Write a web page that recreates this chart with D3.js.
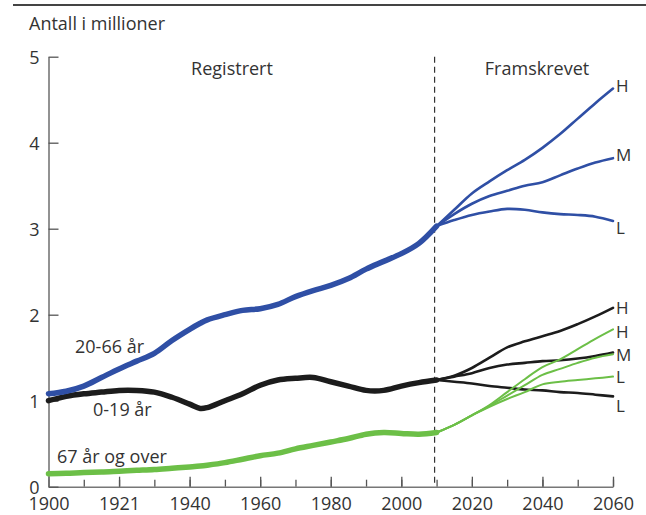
<!DOCTYPE html>
<html>
<head>
<meta charset="utf-8">
<script src="https://cdn.jsdelivr.net/npm/d3@7"></script>
<style>
  body { margin: 0; background: #fff; }
  text { font-family: "Open Sans", "Noto Sans", sans-serif; fill: #333; }
</style>
</head>
<body>
<div id="chart"></div>
<script>
// registered figures, millions
const regYears = [1900, 1905, 1910, 1915, 1920, 1925, 1930, 1935, 1940, 1943, 1945, 1950, 1955, 1960, 1965, 1970, 1975, 1980, 1985, 1990, 1995, 2000, 2005, 2010];
const reg2066 = [1.08, 1.11, 1.17, 1.27, 1.37, 1.46, 1.55, 1.70, 1.83, 1.90, 1.94, 2.00, 2.05, 2.07, 2.12, 2.21, 2.28, 2.34, 2.42, 2.53, 2.62, 2.71, 2.83, 3.03];
const reg019 = [1.00, 1.05, 1.08, 1.10, 1.12, 1.12, 1.10, 1.04, 0.96, 0.91, 0.92, 1.00, 1.08, 1.18, 1.24, 1.26, 1.27, 1.22, 1.17, 1.12, 1.12, 1.17, 1.21, 1.24];
const reg67 = [0.15, 0.155, 0.165, 0.17, 0.18, 0.19, 0.20, 0.215, 0.23, 0.24, 0.25, 0.28, 0.32, 0.36, 0.39, 0.44, 0.48, 0.52, 0.56, 0.61, 0.63, 0.62, 0.61, 0.63];

// projections (H = high, M = middle, L = low)
const projYears = [2010, 2015, 2020, 2025, 2030, 2035, 2040, 2045, 2050, 2055, 2060];
const proj2066H = [3.03, 3.22, 3.41, 3.55, 3.68, 3.80, 3.94, 4.10, 4.28, 4.46, 4.63];
const proj2066M = [3.03, 3.17, 3.29, 3.38, 3.44, 3.50, 3.54, 3.62, 3.70, 3.77, 3.82];
const proj2066L = [3.03, 3.10, 3.16, 3.20, 3.23, 3.22, 3.19, 3.17, 3.16, 3.14, 3.09];
const proj019H = [1.24, 1.29, 1.38, 1.50, 1.62, 1.69, 1.75, 1.81, 1.89, 1.98, 2.08];
const proj019M = [1.24, 1.28, 1.32, 1.38, 1.42, 1.44, 1.46, 1.47, 1.49, 1.52, 1.56];
const proj019L = [1.24, 1.22, 1.20, 1.17, 1.15, 1.13, 1.12, 1.10, 1.09, 1.07, 1.05];
const proj67H = [0.63, 0.72, 0.83, 0.95, 1.10, 1.25, 1.39, 1.48, 1.60, 1.72, 1.83];
const proj67M = [0.63, 0.72, 0.83, 0.94, 1.06, 1.18, 1.30, 1.37, 1.44, 1.50, 1.54];
const proj67L = [0.63, 0.72, 0.83, 0.93, 1.02, 1.10, 1.19, 1.22, 1.24, 1.26, 1.28];

const splitYear = 2010;
const xTickValues = [1900, 1920, 1940, 1960, 1980, 2000, 2020, 2040, 2060];
const xTickLabels = ["1900", "1921", "1940", "1960", "1980", "2000", "2020", "2040", "2060"];
const xMinorTicks = d3.range(1900, 2061, 10);
const yTickValues = [0, 1, 2, 3, 4, 5];

const width = 646, height = 515;
const blue = "#2f4fa5", black = "#1c1c1c", green = "#6cbf47";

const svg = d3.select("#chart")
  .append("svg")
  .attr("width", width)
  .attr("height", height);

const x = d3.scaleLinear().domain([1900, 2060]).range([48.5, 613]);
const y = d3.scaleLinear().domain([0, 5]).range([486.7, 56.7]);

// top rule
svg.append("line")
  .attr("x1", 13).attr("x2", width)
  .attr("y1", 5).attr("y2", 5)
  .style("stroke", "#444").style("stroke-width", 2);

svg.append("text")
  .attr("x", 29).attr("y", 30)
  .style("font-size", "18px")
  .text("Antall i millioner");

// axes
const xMinor = svg.append("g")
  .attr("transform", "translate(0," + y(0) + ")")
  .call(d3.axisBottom(x).tickValues(xMinorTicks).tickSize(-7).tickSizeOuter(0).tickFormat(""));
xMinor.select(".domain").remove();

const xAxis = svg.append("g")
  .attr("transform", "translate(0," + y(0) + ")")
  .call(d3.axisBottom(x)
    .tickValues(xTickValues)
    .tickSize(-10)
    .tickSizeOuter(0)
    .tickPadding(11)
    .tickFormat((d, i) => xTickLabels[i]));

const yAxis = svg.append("g")
  .attr("transform", "translate(" + x(1900) + ",0)")
  .call(d3.axisLeft(y)
    .tickValues(yTickValues)
    .tickSize(-10)
    .tickSizeOuter(0)
    .tickPadding(9)
    .tickFormat(d3.format("d")));

[xAxis, yAxis, xMinor].forEach(function(g) {
  g.selectAll("line").style("stroke", "#555").style("stroke-width", 1.3);
  g.selectAll(".domain").style("stroke", "#777").style("stroke-width", 1.6);
  g.selectAll("text").style("font-size", "18px").style("fill", "#333")
    .style("font-family", "'Open Sans', sans-serif");
});
xAxis.selectAll("text").attr("dy", "0.71em");
yAxis.selectAll("text").attr("dy", "0.35em");

// split between registered and projected
svg.append("line")
  .attr("x1", x(splitYear) - 2).attr("x2", x(splitYear) - 2)
  .attr("y1", y(5)).attr("y2", y(0))
  .style("stroke", "#333").style("stroke-width", 1.2)
  .style("stroke-dasharray", "6,4");

svg.append("text").attr("x", 232).attr("y", 75)
  .style("font-size", "18px").style("text-anchor", "middle").text("Registrert");
svg.append("text").attr("x", 537).attr("y", 75)
  .style("font-size", "18px").style("text-anchor", "middle").text("Framskrevet");

const line = d3.line()
  .x(d => x(d[0]))
  .y(d => y(d[1]))
  .curve(d3.curveCatmullRom);

function draw(years, values, color, w) {
  svg.append("path")
    .datum(years.map((yr, i) => [yr, values[i]]))
    .attr("d", line)
    .style("fill", "none")
    .style("stroke", color)
    .style("stroke-width", w)
    .style("stroke-linecap", "round")
    .style("stroke-linejoin", "round");
}

// projections
draw(projYears, proj2066H, blue, 2.6);
draw(projYears, proj2066M, blue, 2.6);
draw(projYears, proj2066L, blue, 2.6);
draw(projYears, proj019H, black, 2.6);
draw(projYears, proj019M, black, 2.6);
draw(projYears, proj019L, black, 2.6);
draw(projYears, proj67H, green, 2);
draw(projYears, proj67M, green, 2);
draw(projYears, proj67L, green, 2);

// registered
draw(regYears, reg67, green, 5.5);
draw(regYears, reg019, black, 5.5);
draw(regYears, reg2066, blue, 5.5);

// series labels
svg.append("text").attr("x", 75).attr("y", 353).style("font-size", "18px").text("20-66 år");
svg.append("text").attr("x", 93).attr("y", 416).style("font-size", "18px").text("0-19 år");
svg.append("text").attr("x", 57).attr("y", 463).style("font-size", "18px").text("67 år og over");

// scenario labels at the line ends
const endLabels = [
  ["H", proj2066H], ["M", proj2066M], ["L", proj2066L],
  ["H", proj019H], ["H", proj67H], ["M", proj019M], ["L", proj67L], ["L", proj019L]
];
const endY = [86, 155, 228, 308, 332, 355, 377, 406];
svg.selectAll(".endlabel")
  .data(endLabels)
  .enter()
  .append("text")
  .attr("class", "endlabel")
  .attr("x", 616)
  .attr("y", (d, i) => endY[i])
  .attr("dy", "0.35em")
  .style("font-size", "17px")
  .text(d => d[0]);
</script>
</body>
</html>
